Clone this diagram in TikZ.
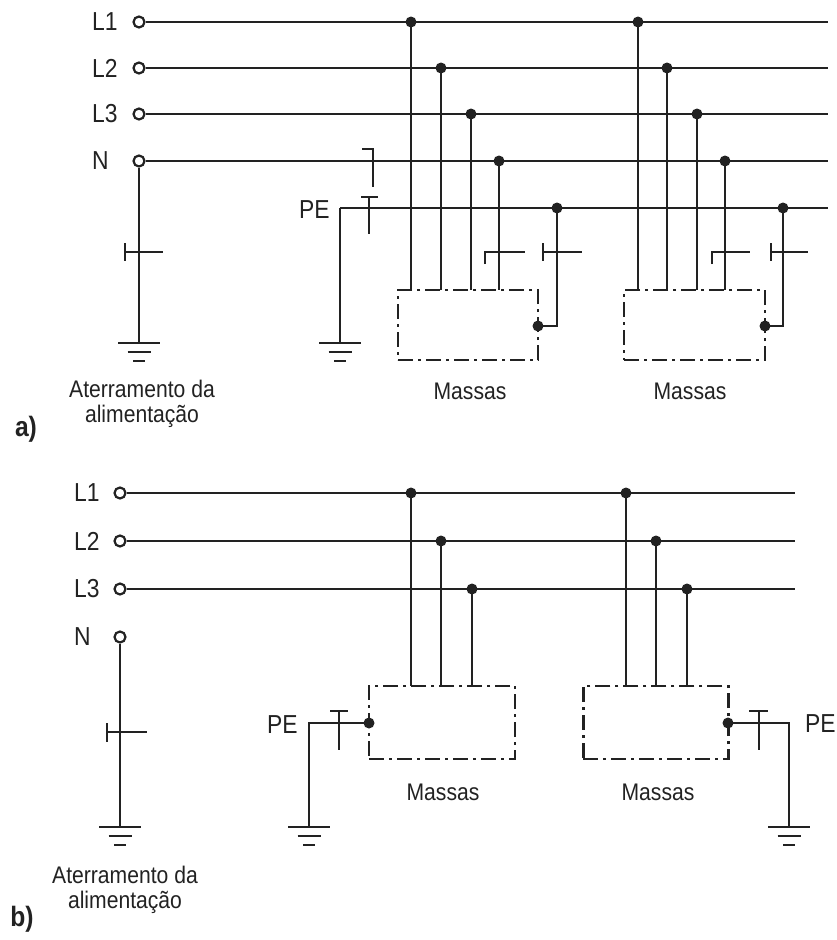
\documentclass[tikz,border=0pt]{standalone}
\usepackage{fontspec}
\setmainfont{Liberation Sans}[FakeStretch=0.88]
\definecolor{ink}{RGB}{34,34,34}
\begin{document}
\begin{tikzpicture}[x=1pt,y=-1pt,
  wire/.style={draw=ink, line width=2.8pt},
  term/.style={circle, draw=ink, fill=white, line width=2.2pt, minimum size=11pt, inner sep=0pt},
  jdot/.style={circle, fill=ink, minimum size=11pt, inner sep=0pt},
  lbl/.style={font=\fontsize{24}{28}\selectfont, text=ink, inner sep=0pt},
  plbl/.style={font=\fontsize{26}{30}\selectfont, text=ink, inner sep=0pt},
  tag/.style={font=\fontsize{28}{32}\selectfont\bfseries, text=ink, inner sep=0pt},
  massbox/.style={draw=ink, line width=2.6pt, dash pattern=on 15pt off 5pt on 3pt off 5pt, inner sep=0pt},
  gnd/.pic={\draw[wire] (-21,0) -- (21,0); \draw[wire] (-11.5,9) -- (11.5,9); \draw[wire] (-6,18) -- (6,18);}
]
\useasboundingbox (0,0) rectangle (837,940);
\fill[white] (0,0) rectangle (837,940);

% ================= a) =================
\foreach \n/\t/\y in {L1/L1/22, L2/L2/68, L3/L3/114, N/N/161}{
  \node[plbl, anchor=west] (lab\n a) at (92,\y) {\t};
  \node[term] (\n a) at (139,\y) {};
  \coordinate (\n aend) at (828,\y);
  \draw[wire] (\n a.east) -- (\n aend);
}
% PE conductor
\node[plbl, anchor=west] (labPEa) at (299,210) {PE};
\coordinate (PEastart) at (340,208);
\coordinate (PEaend) at (828,208);
\draw[wire] (PEastart) -- (PEaend);
\coordinate (gPEa) at (340,343);
\draw[wire] (PEastart) -- (gPEa);
\pic at (gPEa) {gnd};
% N/PE link symbol
\draw[wire] (362,149) -- (373,149) -- (373,187);
\draw[wire] (361,197) -- (378,197);
\draw[wire] (369,197) -- (369,234);

% supply earthing
\coordinate (gNa) at (139,343);
\draw[wire] (Na.south) -- (gNa);
\pic at (gNa) {gnd};
\draw[wire] (125,243) -- (125,261);
\draw[wire] (125,252) -- (163,252);
\node[lbl, align=center] (aterA) at (142,404) {Aterramento da\\[-3pt]alimentação};

% boxes a)
\node[massbox, minimum width=140pt, minimum height=70pt] (boxa1) at (468,325) {};
\node[massbox, minimum width=141pt, minimum height=70pt] (boxa2) at (694.5,325) {};
\node[lbl] (masa1) at (470,391) {Massas};
\node[lbl] (masa2) at (690,391) {Massas};

% group 1 a)
\foreach \x/\y/\k in {411/22/1, 441/68/2, 471/114/3, 499/161/4}{
  \node[jdot] (ga1\k) at (\x,\y) {};
  \coordinate (ga1b\k) at (\x,290);
  \draw[wire] (ga1\k.center) -- (ga1b\k);
}
\node[jdot] (ga1pe) at (557,208) {};
\node[jdot] (ga1pd) at (538,326) {};
\draw[wire] (ga1pe.center) |- (ga1pd.center);
\draw[wire] (485,264) -- (485,252) -- (525,252);
\draw[wire] (543,243) -- (543,261);
\draw[wire] (543,252) -- (582,252);

% group 2 a)
\foreach \x/\y/\k in {638/22/1, 667/68/2, 697/114/3, 725/161/4}{
  \node[jdot] (ga2\k) at (\x,\y) {};
  \coordinate (ga2b\k) at (\x,290);
  \draw[wire] (ga2\k.center) -- (ga2b\k);
}
\node[jdot] (ga2pe) at (783,208) {};
\node[jdot] (ga2pd) at (765,326) {};
\draw[wire] (ga2pe.center) |- (ga2pd.center);
\draw[wire] (712,264) -- (712,252) -- (750,252);
\draw[wire] (771,243) -- (771,261);
\draw[wire] (771,252) -- (808,252);

\node[tag] (taga) at (26,429) {a)};

% ================= b) =================
\foreach \n/\t/\y in {L1/L1/493, L2/L2/541, L3/L3/589}{
  \node[plbl, anchor=west] (lab\n b) at (74,\y) {\t};
  \node[term] (\n b) at (120,\y) {};
  \coordinate (\n bend) at (795,\y);
  \draw[wire] (\n b.east) -- (\n bend);
}
\node[plbl, anchor=west] (labNb) at (74,637) {N};
\node[term] (Nb) at (120,637) {};
\coordinate (gNb) at (120,827);
\draw[wire] (Nb.south) -- (gNb);
\pic at (gNb) {gnd};
\draw[wire] (107,723) -- (107,742);
\draw[wire] (107,732) -- (147,732);
\node[lbl, align=center] (aterB) at (125,890) {Aterramento da\\[-3pt]alimentação};

% boxes b)
\node[massbox, minimum width=146pt, minimum height=73pt] (boxb1) at (442,722.5) {};
\node[massbox, minimum width=145pt, minimum height=73pt] (boxb2) at (655.8,722.5) {};
\node[lbl] (masb1) at (443,792) {Massas};
\node[lbl] (masb2) at (658,792) {Massas};

% group 1 b)
\foreach \x/\y/\k in {411/493/1, 441/541/2, 472/589/3}{
  \node[jdot] (gb1\k) at (\x,\y) {};
  \coordinate (gb1b\k) at (\x,686);
  \draw[wire] (gb1\k.center) -- (gb1b\k);
}
\node[jdot] (gb1pd) at (369,723) {};
\coordinate (gPEb1) at (309,827);
\draw[wire] (gb1pd.center) -| (gPEb1);
\pic at (gPEb1) {gnd};
\draw[wire] (330,711) -- (348,711);
\draw[wire] (339,711) -- (339,750);
\node[plbl, anchor=west] (labPEb1) at (267,725) {PE};

% group 2 b)
\foreach \x/\y/\k in {626/493/1, 656/541/2, 687/589/3}{
  \node[jdot] (gb2\k) at (\x,\y) {};
  \coordinate (gb2b\k) at (\x,686);
  \draw[wire] (gb2\k.center) -- (gb2b\k);
}
\node[jdot] (gb2pd) at (728,723) {};
\coordinate (gPEb2) at (789,827);
\draw[wire] (gb2pd.center) -| (gPEb2);
\pic at (gPEb2) {gnd};
\draw[wire] (749,711) -- (768,711);
\draw[wire] (759,711) -- (759,750);
\node[plbl, anchor=west] (labPEb2) at (805,724) {PE};

\node[tag] (tagb) at (22,919) {b)};
\end{tikzpicture}
\end{document}
